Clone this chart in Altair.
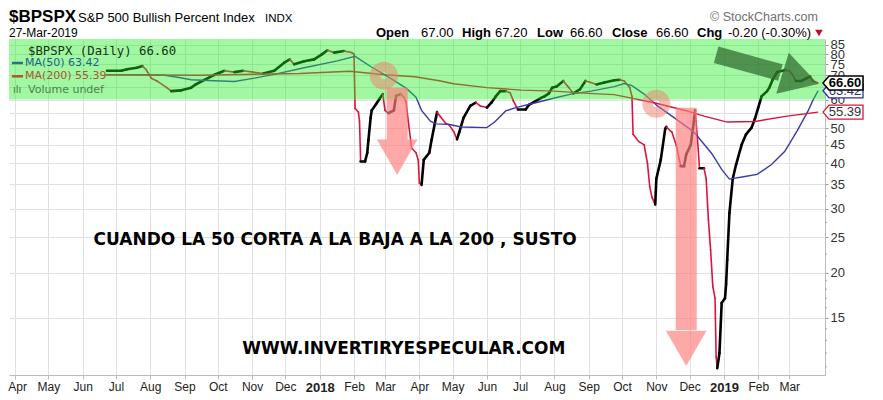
import numpy as np
import pandas as pd
import altair as alt

# ---------------- data ----------------
price_dates = [
    "2017-06-23", "2017-07-06", "2017-07-11", "2017-07-20", "2017-07-25", "2017-07-28",
    "2017-08-02", "2017-08-07", "2017-08-16", "2017-08-20", "2017-08-29", "2017-09-07",
    "2017-09-11", "2017-09-19", "2017-09-28", "2017-10-07", "2017-10-16", "2017-10-24",
    "2017-11-02", "2017-11-11", "2017-11-21", "2017-11-30", "2017-12-05", "2017-12-09",
    "2017-12-18", "2017-12-27", "2018-01-03", "2018-01-08", "2018-01-14", "2018-01-23",
    "2018-01-30", "2018-02-01", "2018-02-02", "2018-02-05", "2018-02-06", "2018-02-07",
    "2018-02-11", "2018-02-13", "2018-02-14", "2018-02-16", "2018-02-17", "2018-02-21",
    "2018-02-24", "2018-02-27", "2018-03-01", "2018-03-04", "2018-03-09", "2018-03-11",
    "2018-03-15", "2018-03-18", "2018-03-20", "2018-03-22", "2018-03-25", "2018-03-29",
    "2018-03-31", "2018-04-01", "2018-04-03", "2018-04-05", "2018-04-10", "2018-04-12",
    "2018-04-16", "2018-04-17", "2018-04-20", "2018-04-25", "2018-04-28", "2018-05-02",
    "2018-05-05", "2018-05-07", "2018-05-11", "2018-05-17", "2018-05-22", "2018-05-26",
    "2018-06-01", "2018-06-05", "2018-06-09", "2018-06-13", "2018-06-18", "2018-06-22",
    "2018-06-25", "2018-06-29", "2018-07-06", "2018-07-09", "2018-07-15", "2018-07-20",
    "2018-07-23", "2018-07-27", "2018-07-30", "2018-08-03", "2018-08-09", "2018-08-14",
    "2018-08-18", "2018-08-24", "2018-08-29", "2018-09-03", "2018-09-08", "2018-09-15",
    "2018-09-24", "2018-09-29", "2018-10-03", "2018-10-08", "2018-10-10", "2018-10-11",
    "2018-10-16", "2018-10-21", "2018-10-24", "2018-10-26", "2018-10-28", "2018-10-31",
    "2018-11-01", "2018-11-05", "2018-11-09", "2018-11-10", "2018-11-15", "2018-11-19",
    "2018-11-23", "2018-11-26", "2018-11-28", "2018-12-02", "2018-12-04", "2018-12-06",
    "2018-12-08", "2018-12-10", "2018-12-14", "2018-12-16", "2018-12-18", "2018-12-20",
    "2018-12-22", "2018-12-24", "2018-12-25", "2018-12-26", "2018-12-28", "2018-12-30",
    "2019-01-02", "2019-01-03", "2019-01-04", "2019-01-06", "2019-01-09", "2019-01-12",
    "2019-01-17", "2019-01-21", "2019-01-26", "2019-01-29", "2019-02-01", "2019-02-04",
    "2019-02-09", "2019-02-11", "2019-02-14", "2019-02-18", "2019-02-25", "2019-03-01",
    "2019-03-04", "2019-03-07", "2019-03-12", "2019-03-17", "2019-03-20", "2019-03-22",
    "2019-03-26", "2019-03-27",
]
price_values = [
    72.0, 72.0, 72.7, 73.4, 74.2, 72.7,
    68.7, 67.5, 64.7, 63.3, 63.6, 64.7,
    66.0, 68.0, 70.2, 72.0, 71.4, 72.0,
    71.4, 70.8, 72.0, 75.8, 77.4, 75.0,
    76.5, 77.4, 79.9, 82.0, 80.8, 81.6,
    80.8, 80.0, 56.7, 55.4, 52.3, 40.5,
    40.5, 42.8, 46.3, 53.4, 56.0, 58.3,
    60.2, 62.1, 56.0, 55.0, 56.0, 61.4,
    62.1, 60.9, 59.1, 52.3, 44.1, 42.8,
    40.9, 35.3, 34.9, 40.9, 42.8, 46.3,
    53.4, 55.4, 53.8, 51.5, 51.0, 49.0,
    46.6, 48.7, 53.5, 57.6, 58.8, 57.6,
    57.0, 58.8, 61.2, 63.3, 63.3, 62.6,
    59.4, 56.3, 56.3, 58.0, 59.4, 60.6,
    61.2, 62.4, 64.7, 65.2, 67.5, 64.7,
    62.4, 64.0, 67.5, 66.8, 66.0, 66.8,
    67.8, 68.0, 67.5, 64.7, 61.2, 48.1,
    46.0, 45.0, 40.0, 34.6, 32.3, 30.8,
    36.3, 40.9, 49.8, 50.4, 48.8, 44.9,
    39.3, 39.3, 42.4, 44.9, 49.8, 56.0,
    47.3, 38.8, 38.8, 36.3, 28.0, 23.1,
    18.3, 17.0, 11.7, 10.9, 12.0, 16.5,
    17.0, 18.6, 21.7, 29.2, 36.3, 39.7,
    45.0, 48.1, 50.2, 53.1, 57.0, 61.2,
    63.3, 64.7, 68.0, 71.4, 72.3, 72.0,
    70.2, 67.5, 67.5, 68.7, 69.4, 67.5,
    66.8, 66.6,
]

ma50_dates = [
    "2017-06-22", "2017-07-21", "2017-08-14", "2017-08-27", "2017-09-07", "2017-09-28",
    "2017-10-16", "2017-11-03", "2017-11-21", "2017-12-18", "2018-01-17", "2018-02-02",
    "2018-02-16", "2018-03-05", "2018-03-20", "2018-03-29", "2018-04-03", "2018-04-11",
    "2018-04-16", "2018-04-27", "2018-05-09", "2018-06-01", "2018-06-08", "2018-06-18",
    "2018-06-27", "2018-07-15", "2018-08-01", "2018-08-16", "2018-09-03", "2018-09-24",
    "2018-10-03", "2018-10-10", "2018-10-21", "2018-11-02", "2018-11-17", "2018-12-05",
    "2018-12-21", "2018-12-30", "2019-01-06", "2019-01-20", "2019-01-31", "2019-02-13",
    "2019-02-25", "2019-03-08", "2019-03-18", "2019-03-22", "2019-03-27",
]
ma50_values = [
    70.2, 70.2, 70.0, 69.0, 68.0, 67.6,
    67.3, 68.7, 70.4, 73.4, 76.7, 78.9,
    74.0, 68.9, 64.5, 60.9, 56.0, 52.3,
    51.4, 51.3, 50.4, 50.2, 52.0, 55.8,
    57.0, 58.8, 60.6, 62.1, 63.3, 65.1,
    66.4, 65.5, 62.1, 57.6, 53.5, 48.8,
    42.6, 38.5, 36.2, 36.8, 37.3, 39.7,
    43.2, 49.1, 55.8, 59.4, 63.42,
]

ma200_dates = [
    "2017-06-22", "2017-09-14", "2017-12-14", "2018-01-28", "2018-03-01", "2018-03-28",
    "2018-04-19", "2018-05-02", "2018-06-01", "2018-07-02", "2018-08-01", "2018-08-31",
    "2018-09-24", "2018-10-30", "2018-11-29", "2018-12-14", "2019-01-04", "2019-01-29",
    "2019-02-27", "2019-03-27",
]
ma200_values = [
    70.2, 70.0, 70.8, 71.8, 70.2, 69.3,
    67.6, 66.3, 64.7, 63.7, 63.3, 62.4,
    61.9, 58.8, 55.8, 54.0, 52.0, 52.2,
    54.0, 55.39,
]

month_ticks = [
    "2017-04-01", "2017-05-01", "2017-06-01", "2017-07-01", "2017-08-01", "2017-09-01",
    "2017-10-01", "2017-11-01", "2017-12-01", "2018-01-01", "2018-02-01", "2018-03-01",
    "2018-04-01", "2018-05-01", "2018-06-01", "2018-07-01", "2018-08-01", "2018-09-01",
    "2018-10-01", "2018-11-01", "2018-12-01", "2019-01-01", "2019-02-01", "2019-03-01",
]
y_ticks = [15, 20, 25, 30, 35, 40, 45, 50, 55, 60, 65, 70, 75, 80, 85]
y_minor = [11, 12, 13, 14, 16, 17, 18, 19, 22.5, 27.5, 32.5, 37.5, 42.5, 47.5]

last_close = 66.60
last_ma50 = 63.42
last_ma200 = 55.39
band_low = 60

# annotation anchors (date, value)
ring_dates = ["2018-02-28", "2018-11-01"]
ring_values = [69.8, 58.4]
red_shaft_dates = ["2018-03-12", "2018-11-28"]
red_shaft_top = [64.7, 56.9]
red_shaft_bottom = [46.5, 13.9]
red_head_values = [41.6, 12.36]
green_shaft = {"d1": "2018-12-25", "v1": 79.7, "d2": "2019-02-21", "v2": 71.2}
green_head = {"d": "2019-03-11", "v": 68.5}

# ---------------- chart ----------------
W, H = 816, 336
FONT = "Liberation Sans"

tick_ms = [int(pd.Timestamp(t, tz="UTC").timestamp() * 1000) for t in month_ticks]

xscale = alt.Scale(
    type="utc",
    domain=[alt.DateTime(year=2017, month=3, date=26, hours=12, utc=True),
            alt.DateTime(year=2019, month=4, date=2, hours=7, utc=True)],
)
yscale = alt.Scale(type="log", domain=[10.44, 88.1], nice=False, zero=False)

FIRST = "utcyear(datum.value) == 2017 && utcmonth(datum.value) == 3"
xaxis = alt.Axis(
    values=tick_ms,
    labelExpr="utcmonth(datum.value) == 0 ? utcFormat(datum.value, '%Y') : utcFormat(datum.value, '%b')",
    labelFontWeight={"condition": {"test": "utcmonth(datum.value) == 0", "value": "bold"}, "value": "normal"},
    labelFontSize={"condition": {"test": "utcmonth(datum.value) == 0", "value": 13}, "value": 12},
    labelOffset={"condition": {"test": FIRST, "value": 2}, "value": 0},
    labelFont=FONT, labelColor="#222", labelPadding=2, labelOverlap=False,
    tickSize=4, tickColor="#bbbbbb", domainColor="#bbbbbb",
    grid=True, gridColor="#e0e0e0", zindex=0, title=None,
)
yaxis = alt.Axis(
    orient="right", values=y_ticks, format="d", labelOverlap=False,
    labelFont=FONT, labelFontSize=13, labelColor="#333", labelPadding=2,
    tickSize=3, tickColor="#999999", domainColor="#bbbbbb",
    grid=True, gridColor="#e0e0e0", zindex=0, title=None,
)


def X(field):
    return alt.X(field, type="temporal", scale=xscale, axis=xaxis, title=None)


def Y(field):
    return alt.Y(field, type="quantitative", scale=yscale, axis=yaxis, title=None)


# price segments coloured by direction
seg = pd.DataFrame({
    "d1": price_dates[:-1], "d2": price_dates[1:],
    "v1": price_values[:-1], "v2": price_values[1:],
})
up = seg["v2"] >= seg["v1"]
seg["col"] = np.where(up, "#000000", "#dc143c")
seg["w"] = np.where(up, 2.6, 1.6)

price = alt.Chart(seg).mark_rule(strokeCap="round").encode(
    x=X("d1"), x2="d2", y=Y("v1"), y2="v2",
    color=alt.Color("col:N", scale=None), strokeWidth=alt.StrokeWidth("w:Q", scale=None),
)

ma50 = alt.Chart(pd.DataFrame({"d": ma50_dates, "v": ma50_values})).mark_line(
    color="#3a3aaa", strokeWidth=1.4).encode(x=X("d"), y=Y("v"))
ma200 = alt.Chart(pd.DataFrame({"d": ma200_dates, "v": ma200_values})).mark_line(
    color="#dc143c", strokeWidth=1.4).encode(x=X("d"), y=Y("v"))

minor = alt.Chart(pd.DataFrame({"v": y_minor})).mark_rule(color="#aaaaaa", strokeWidth=1).encode(
    x=alt.value(W), x2=alt.value(W + 2), y=Y("v"))

dummy = alt.Data(values=[{"a": 1}])

band = alt.Chart(pd.DataFrame({"lo": [band_low]})).mark_rect(
    color="#22ee22", opacity=0.42).encode(
    y=Y("lo"), y2=alt.value(0), x=alt.value(0), x2=alt.value(W))


def txt(s, x, y, size=12, weight="normal", color="#000", font=FONT, align="left", baseline="alphabetic"):
    return alt.Chart(dummy).mark_text(
        text=s, fontSize=size, fontWeight=weight, color=color, font=font,
        align=align, baseline=baseline,
    ).encode(x=alt.value(x), y=alt.value(y))


def dash(y, color):
    return alt.Chart(dummy).mark_rule(color=color, strokeWidth=2.5).encode(
        x=alt.value(3), x2=alt.value(14), y=alt.value(y))


legend = [
    txt(f"$BPSPX (Daily) {last_close:.2f}", 19, 11.5, size=12.3, font="DejaVu Sans Mono",
        color="#153515", baseline="middle"),
    dash(24, "#2a6f8a"),
    txt(f"MA(50) {last_ma50:.2f}", 16, 24, size=11, font="DejaVu Sans", color="#22608a", baseline="middle"),
    dash(37.3, "#a8582c"),
    txt(f"MA(200) {last_ma200:.2f}", 16, 37.3, size=11, font="DejaVu Sans", color="#a8582c", baseline="middle"),
    txt("ılı", 4, 50.7, size=10, font="DejaVu Sans", color="#4a7a4a", baseline="middle"),
    txt("Volume undef", 19, 50.7, size=11, font="DejaVu Sans", color="#4f7f4f", baseline="middle"),
]

rings = alt.Chart(pd.DataFrame({"d": ring_dates, "v": ring_values})).mark_point(
    shape="circle", filled=False, size=306, strokeWidth=10.5, stroke="#f08070", strokeOpacity=0.72,
).encode(x=X("d"), y=Y("v"))

shafts = alt.Chart(pd.DataFrame({"d": red_shaft_dates, "v1": red_shaft_top, "v2": red_shaft_bottom})).mark_rule(
    strokeWidth=21, strokeCap="butt", color="#ff7f7f", opacity=0.68,
).encode(x=X("d"), y=Y("v1"), y2="v2")
heads = alt.Chart(pd.DataFrame({"d": red_shaft_dates, "v": red_head_values})).mark_point(
    shape="triangle-down", filled=True, size=1650, color="#ff7f7f", opacity=0.68,
).encode(x=X("d"), y=Y("v"))

gshaft = alt.Chart(pd.DataFrame([green_shaft])).mark_rule(
    strokeWidth=17, strokeCap="butt", color="#2f6a2f", opacity=0.72,
).encode(x=X("d1"), x2="d2", y=Y("v1"), y2="v2")
ghead = alt.Chart(pd.DataFrame([green_head])).mark_point(
    shape="triangle-right", filled=True, size=1850, angle=17, color="#2f6a2f", opacity=0.72,
).encode(x=X("d"), y=Y("v"))

notes = alt.Chart(pd.DataFrame({
    "d": ["2018-01-15", "2018-03-18"],
    "v": [24.6, 12.3],
    "t": ["CUANDO LA 50 CORTA A LA BAJA A LA 200 , SUSTO", "WWW.INVERTIRYESPECULAR.COM"],
})).mark_text(font="DejaVu Sans", fontWeight="bold", fontSize=17, color="#000",
              align="center", baseline="middle").encode(x=X("d"), y=Y("v"), text="t:N")

TAG = "M-1,0L-0.7,-0.35L1,-0.35L1,0.35L-0.7,0.35Z"


def tag(value, stroke, textcolor, weight, sw):
    df = pd.DataFrame({"v": [value], "t": [f"{value:.2f}"]})
    box = alt.Chart(df).mark_point(shape=TAG, size=1600, filled=True, fill="white",
                                   stroke=stroke, strokeWidth=sw, opacity=1).encode(
        x=alt.value(834), y=Y("v"))
    lab = alt.Chart(df).mark_text(font=FONT, fontSize=13, fontWeight=weight, color=textcolor,
                                  align="center", baseline="middle").encode(
        x=alt.value(836), y=Y("v"), text="t:N")
    return [box, lab]


tags = tag(last_ma50, "#3030b0", "#303060", "normal", 1.3) + \
    tag(last_ma200, "#dc143c", "#333333", "normal", 1.3) + \
    tag(last_close, "#000000", "#000000", "bold", 1.6)

header = [
    txt("$BPSPX", 0, -17, size=17, weight="bold"),
    txt("S&P 500 Bullish Percent Index", 69, -17, size=13),
    txt("INDX", 256, -17, size=11.5),
    txt("27-Mar-2019", 0, -2.5, size=12),
    txt("Open", 367, -2.5, size=13, weight="bold"),
    txt("67.00", 412, -2.5, size=13),
    txt("High", 453, -2.5, size=13, weight="bold"),
    txt("67.20", 486, -2.5, size=13),
    txt("Low", 528, -2.5, size=13, weight="bold"),
    txt("66.60", 561, -2.5, size=13),
    txt("Close", 603, -2.5, size=13, weight="bold"),
    txt("66.60", 647, -2.5, size=13),
    txt("Chg", 688, -2.5, size=13, weight="bold"),
    txt("-0.20 (-0.30%)", 719, -2.5, size=13),
    txt("© StockCharts.com", 701, -18, size=12.5, color="#707070"),
    alt.Chart(dummy).mark_point(shape="triangle-down", filled=True, size=60, color="#c0102a",
                                opacity=1).encode(x=alt.value(810), y=alt.value(-6)),
]

chart = alt.layer(
    price, ma50, ma200, minor, band, *legend, rings, shafts, heads, gshaft, ghead, notes, *tags, *header
).properties(
    width=W, height=H,
    padding={"left": 1, "top": 31, "right": 50, "bottom": 23},
    autosize="none",
).configure_view(stroke=None)

chart.save("out.html", embed_options={"renderer": "svg", "actions": False})
